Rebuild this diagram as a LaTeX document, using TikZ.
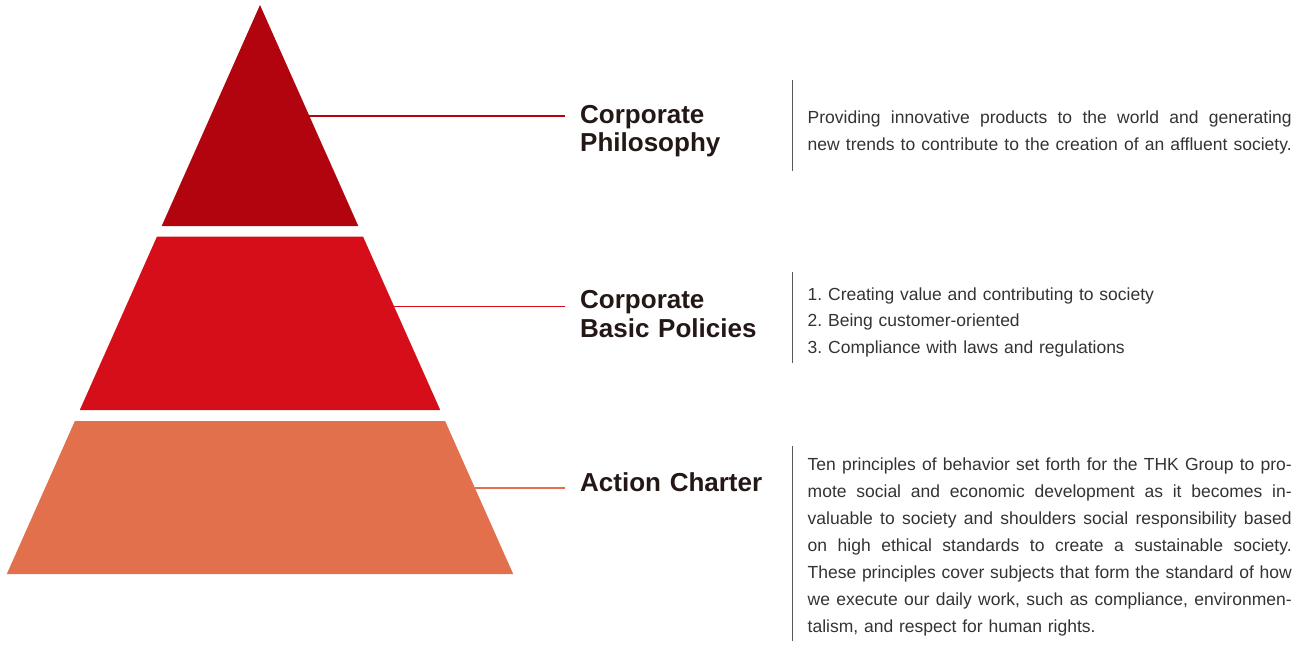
\documentclass[tikz,border=0pt]{standalone}
\usepackage{fontspec}
\setmainfont{Liberation Sans}
\definecolor{tierA}{HTML}{B1040E}
\definecolor{tierB}{HTML}{D50E1A}
\definecolor{tierC}{HTML}{E2704C}
\definecolor{titlecol}{HTML}{231815}
\definecolor{bodycol}{HTML}{333333}
\definecolor{sepcol}{HTML}{595757}
\newcommand{\mybodyfont}[1]{\fontsize{17.5}{#1}\selectfont\frenchspacing}
\newcommand{\jline}[1]{\makebox[484pt][s]{\spaceskip=0.278em plus 1em minus 0.06em\xspaceskip=\spaceskip\relax #1}}
\begin{document}
\begin{tikzpicture}[x=1pt,y=-1pt,
  leader/.style={line width=1.6pt},
  sepline/.style={draw=sepcol,line width=1.1pt},
  titlebox/.style={anchor=base west,inner sep=0pt,text width=220pt,align=left,text=titlecol,
    font=\fontsize{26}{28.5}\selectfont\bfseries},
  bodybox/.style={anchor=base west,inner sep=0pt,text width=484pt,align=left,text=bodycol,
    font=\mybodyfont{27}}]
\useasboundingbox (0,0) rectangle (1300,651);
% pyramid tiers
\fill[tierA] (260,5) -- (358.3,226) -- (161.7,226) -- cycle;
\fill[tierB] (157,236.5) -- (363,236.5) -- (440.2,410) -- (79.8,410) -- cycle;
\fill[tierC] (74.9,421) -- (445.1,421) -- (513.2,574) -- (6.8,574) -- cycle;
% leader coordinates
\coordinate (l1a) at (309.4,116);
\coordinate (l1b) at (565,116);
\coordinate (l2a) at (394.2,306.6);
\coordinate (l2b) at (565,306.6);
\coordinate (l3a) at (474.9,488);
\coordinate (l3b) at (565,488);
\draw[leader,tierA] (l1a) -- (l1b);
\draw[leader,tierB] (l2a) -- (l2b);
\draw[leader,tierC] (l3a) -- (l3b);
% titles
\node[titlebox] (t1) at (580,123) {Corporate\\Philosophy};
\node[titlebox] (t2) at (580,308.5) {Corporate\\Basic Policies};
\node[titlebox] (t3) at (580,491.5) {Action Charter};
% separators
\coordinate (s1a) at (792.5,80);  \coordinate (s1b) at (792.5,171);
\coordinate (s2a) at (792.5,272); \coordinate (s2b) at (792.5,363);
\coordinate (s3a) at (792.5,446); \coordinate (s3b) at (792.5,641);
\draw[sepline] (s1a) -- (s1b);
\draw[sepline] (s2a) -- (s2b);
\draw[sepline] (s3a) -- (s3b);
% body texts
\node[bodybox] (p1) at (807.5,123) {\jline{Providing innovative products to the world and generating}\\
\jline{new trends to contribute to the creation of an affluent society.}};
\node[bodybox,font=\mybodyfont{26.5}] (p2) at (807.5,300) {1. Creating value and contributing to society\\
2. Being customer-oriented\\
3. Compliance with laws and regulations};
\node[bodybox] (p3) at (807.5,470.5) {\jline{Ten principles of behavior set forth for the THK Group to pro-}\\
\jline{mote social and economic development as it becomes in-}\\
\jline{valuable to society and shoulders social responsibility based}\\
\jline{on high ethical standards to create a sustainable society.}\\
\jline{These principles cover subjects that form the standard of how}\\
\jline{we execute our daily work, such as compliance, environmen-}\\
talism, and respect for human rights.};
\end{tikzpicture}
\end{document}
